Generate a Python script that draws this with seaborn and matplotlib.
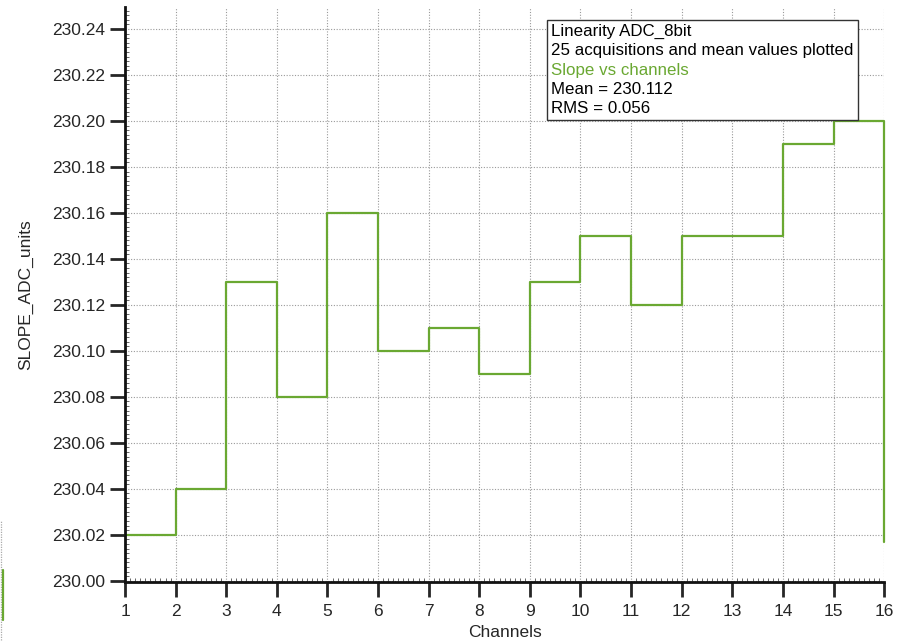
import numpy as np
import pandas as pd
import matplotlib
matplotlib.use("Agg")
import matplotlib.pyplot as plt
import seaborn as sns
from matplotlib.ticker import MultipleLocator
from matplotlib.offsetbox import TextArea, VPacker, AnchoredOffsetbox
from matplotlib.lines import Line2D

# channel edges and slope per channel (steps-post), last point is the drop at 16
channels = [1, 2, 3, 4, 5, 6, 7, 8, 9, 10, 11, 12, 13, 14, 15, 16, 16]
slope = [230.02, 230.04, 230.13, 230.08, 230.16, 230.10, 230.11, 230.09,
         230.13, 230.15, 230.12, 230.15, 230.15, 230.19, 230.20, 230.20, 230.017]
info_lines = ["Linearity ADC_8bit", "25 acquisitions and mean values plotted",
              "Slope vs channels", "Mean = 230.112", "RMS = 0.056"]

green = "#6aa832"

sns.set_style("white")
plt.rcParams["font.family"] = ["Liberation Sans", "DejaVu Sans"]

df = pd.DataFrame({"channel": channels, "slope": slope})

fig = plt.figure(figsize=(9.02, 6.44), dpi=100)
ax = fig.add_axes([0.1386, 0.0963, 0.8416, 0.8927])

sns.lineplot(data=df, x="channel", y="slope", sort=False, estimator=None,
             drawstyle="steps-post", color=green, linewidth=1.6, ax=ax)
for ln in ax.lines:
    ln.set_clip_on(False)

ax.set_xlim(1, 16)
ax.set_ylim(229.9995, 230.2495)
ax.xaxis.set_major_locator(MultipleLocator(1))
ax.xaxis.set_minor_locator(MultipleLocator(0.1))
ax.yaxis.set_minor_locator(MultipleLocator(0.002))
yt = np.arange(230.00, 230.241, 0.02)
ax.set_yticks(yt)
ax.set_yticklabels([f"{v:.2f}" for v in yt])

ax.grid(True, which="major", linestyle=(0, (1, 1.5)), color="#9a9a9a", linewidth=0.8)
for s in ["top", "right"]:
    ax.spines[s].set_visible(False)
for s in ["left", "bottom"]:
    ax.spines[s].set_linewidth(2)
    ax.spines[s].set_color("#111111")

ax.tick_params(which="major", direction="out", length=11, width=2,
               labelsize=12.5, pad=3, left=True, bottom=True)
ax.tick_params(axis="x", which="major", pad=5)
ax.tick_params(which="minor", direction="in", length=3, width=0.7,
               color="#666666", left=True, bottom=True)

ax.set_xlabel("Channels", fontsize=12.5, labelpad=4)
ax.set_ylabel("SLOPE_ADC_units", fontsize=12.5, labelpad=14)

# info box
areas = []
for i, t in enumerate(info_lines):
    c = green if i == 2 else "black"
    areas.append(TextArea(t, textprops=dict(color=c, fontsize=12.2)))
pack = VPacker(children=areas, align="left", pad=0, sep=3)
box = AnchoredOffsetbox(loc="upper left", child=pack, pad=0.3, borderpad=0,
                        frameon=True, bbox_to_anchor=(547 / 902, 1 - 20 / 644),
                        bbox_transform=fig.transFigure)
box.patch.set_edgecolor("#333333")
box.patch.set_linewidth(1)
box.patch.set_boxstyle("square", pad=0)
ax.add_artist(box)

# cut-off remnant at the left edge
fig.add_artist(Line2D([1 / 902, 1 / 902], [1 - 640 / 644, 1 - 520 / 644],
                      transform=fig.transFigure, color="#aaaaaa",
                      linestyle=(0, (1, 1)), linewidth=0.9))
fig.add_artist(Line2D([2.5 / 902, 2.5 / 902], [1 - 620 / 644, 1 - 570 / 644],
                      transform=fig.transFigure, color=green, linewidth=1.6))

fig.savefig("out.png", dpi=100)
